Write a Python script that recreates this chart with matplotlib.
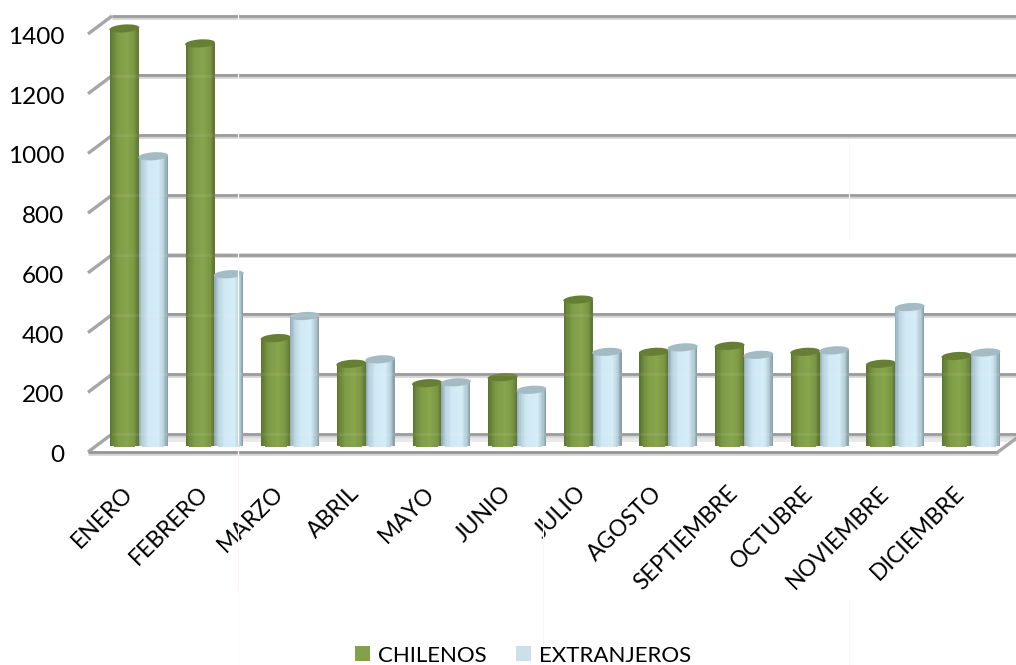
import numpy as np
import matplotlib
matplotlib.use('Agg')
import matplotlib.pyplot as plt
from matplotlib.colors import LinearSegmentedColormap
from matplotlib.lines import Line2D
from matplotlib.patches import Ellipse, Patch
from matplotlib.transforms import IdentityTransform, ScaledTranslation

plt.rcParams['font.family'] = ['Lato', 'DejaVu Sans']

# --- Data ---
months = ['ENERO', 'FEBRERO', 'MARZO', 'ABRIL', 'MAYO', 'JUNIO', 'JULIO',
          'AGOSTO', 'SEPTIEMBRE', 'OCTUBRE', 'NOVIEMBRE', 'DICIEMBRE']
chilenos = [1395, 1345, 358, 272, 207, 227, 487, 312, 332, 312, 272, 298]
extranjeros = [967, 572, 432, 287, 210, 185, 312, 327, 302, 317, 462, 310]
y_ticks = [0, 200, 400, 600, 800, 1000, 1200, 1400]

W, H = 1016, 665
DPI = 100
BAR_W = 0.382
N_STRIPS = 24


def px_offset(dx, dy):
    """Data transform moved by dx, dy pixels (dy up)."""
    return ax.transData + ScaledTranslation(dx, dy, IdentityTransform())


def grid_line(xs, ys, tf, zorder=2):
    # dark core with a pale edge, as in the scanned office chart
    for lw, col, shift in [(3.4, '#d4d4d4', -0.6), (2.0, '#969696', 0.3)]:
        ax.plot(xs, ys, color=col, lw=lw, transform=tf + ScaledTranslation(0, shift, IdentityTransform()),
                clip_on=False, zorder=zorder, solid_capstyle='butt')


def draw_cylinder(x, value, cmap, cap_color):
    """One bar cut in thin strips, with a round foot and a tilted cap."""
    tf = px_offset(13, 7)
    edges = np.linspace(x, x + BAR_W, N_STRIPS + 1)
    step = edges[1] - edges[0]
    t = (np.arange(N_STRIPS) + 0.5) / N_STRIPS
    sag = 2.4 / px_per_val * np.sqrt(1 - (2 * t - 1) ** 2)
    ax.bar(edges[:-1], value + sag, width=step * 1.05, bottom=-sag, align='edge',
           color=cmap(t), linewidth=0, transform=tf, clip_on=False, zorder=3)
    cx, cy = tf.transform((x + BAR_W / 2, value))
    ax.add_patch(Ellipse((cx, cy), 30, 8, angle=4, facecolor=cap_color,
                         edgecolor='none', transform=IdentityTransform(),
                         clip_on=False, zorder=3))


# --- Figure ---
fig = plt.figure(figsize=(W / DPI, H / DPI), dpi=DPI, facecolor='white')
ax = fig.add_axes([88 / W, (H - 452) / H, (998 - 88) / W, (452 - 34) / H])
ax.set_xlim(-0.5, 11.53)
ax.set_ylim(0, 1400)
px_per_val = (452 - 34) / 1400
for s in ax.spines.values():
    s.set_visible(False)
ax.patch.set_visible(False)

# walls and floor
back = px_offset(24, 18)
x0, x1 = ax.get_xlim()
far = x1 + 0.3
ax.plot([x0, far], [0, 0], color='#e8e8e8', lw=3.4, transform=px_offset(24, 13),
        clip_on=False, zorder=1, solid_capstyle='butt')
for v in y_ticks:
    grid_line([x0, far], [v, v], back)
    # left stub from the front tick to the back wall
    p0 = ax.transData.transform((x0, v))
    ax.plot([p0[0], p0[0] + 24], [p0[1], p0[1] + 18], color='#a6a6a6', lw=2.4,
            transform=IdentityTransform(), clip_on=False, zorder=2, solid_capstyle='butt')
grid_line([x0, x1], [0, 0], ax.transData)
p1 = ax.transData.transform((x1, 0))
ax.plot([p1[0], p1[0] + 24], [p1[1], p1[1] + 18], color='#a6a6a6', lw=2.4,
        transform=IdentityTransform(), clip_on=False, zorder=2)

# bars
green_cm = LinearSegmentedColormap.from_list('g', [
    (0, '#56712f'), (0.1, '#6a8538'), (0.3, '#7f9c47'), (0.6, '#87a54c'),
    (0.85, '#7a9644'), (1, '#5a7432')])
blue_cm = LinearSegmentedColormap.from_list('b', [
    (0, '#90a8b2'), (0.12, '#b6cfda'), (0.35, '#d0e9f4'), (0.7, '#d3ecf6'),
    (0.88, '#b2cad4'), (1, '#83999f')])
for i in range(len(months)):
    draw_cylinder(i - BAR_W, chilenos[i], green_cm, '#667f35')
    draw_cylinder(i, extranjeros[i], blue_cm, '#a5bbc4')

# gridlines show faintly through the bars
for v in y_ticks:
    ax.plot([x0, far], [v, v], color='white', lw=2.2, alpha=0.07, transform=back,
            clip_on=False, zorder=4, solid_capstyle='butt')

# axis text
ax.set_yticks(y_ticks)
ax.set_xticks(np.arange(len(months)))
ax.set_xticklabels(months, rotation=45, ha='right', rotation_mode='anchor')
ax.tick_params(axis='x', length=0, labelsize=16.5, colors='black', pad=22)
ax.tick_params(axis='y', length=0, labelsize=17.5, colors='black', pad=17)
for lab in ax.get_xticklabels():
    lab.set_transform(lab.get_transform() + ScaledTranslation(-4, 0, IdentityTransform()))
for lab in ax.get_yticklabels():
    lab.set_transform(lab.get_transform() + ScaledTranslation(0, -1.5, IdentityTransform()))

# faint vertical seams of the source image
for x, y_top, y_bot, col in [(238, 440, 590, '#fdf3ef'), (238, 590, 665, '#fffbfa'),
                             (543, 540, 665, '#fdf6f4'), (849, 140, 240, '#fdf5f1'),
                             (849, 600, 665, '#fdf5f1'),
                             (238, 10, 440, 'white'), (543, 490, 540, 'white')]:
    fig.add_artist(Line2D([x / W, x / W], [1 - y_top / H, 1 - y_bot / H], color=col, lw=0.8, zorder=5))

handles = [Patch(facecolor='#84a04a', label='CHILENOS'),
           Patch(facecolor='#cbe0e8', label='EXTRANJEROS')]
fig.legend(handles=handles, loc='center', bbox_to_anchor=(523 / W, (H - 655.5) / H), ncol=2,
           frameon=False, fontsize=16, handlelength=0.68, handleheight=0.68,
           handletextpad=0.35, columnspacing=1.36, labelcolor='black',
           borderpad=0, borderaxespad=0)

fig.savefig('out.png', dpi=DPI, facecolor='white')
